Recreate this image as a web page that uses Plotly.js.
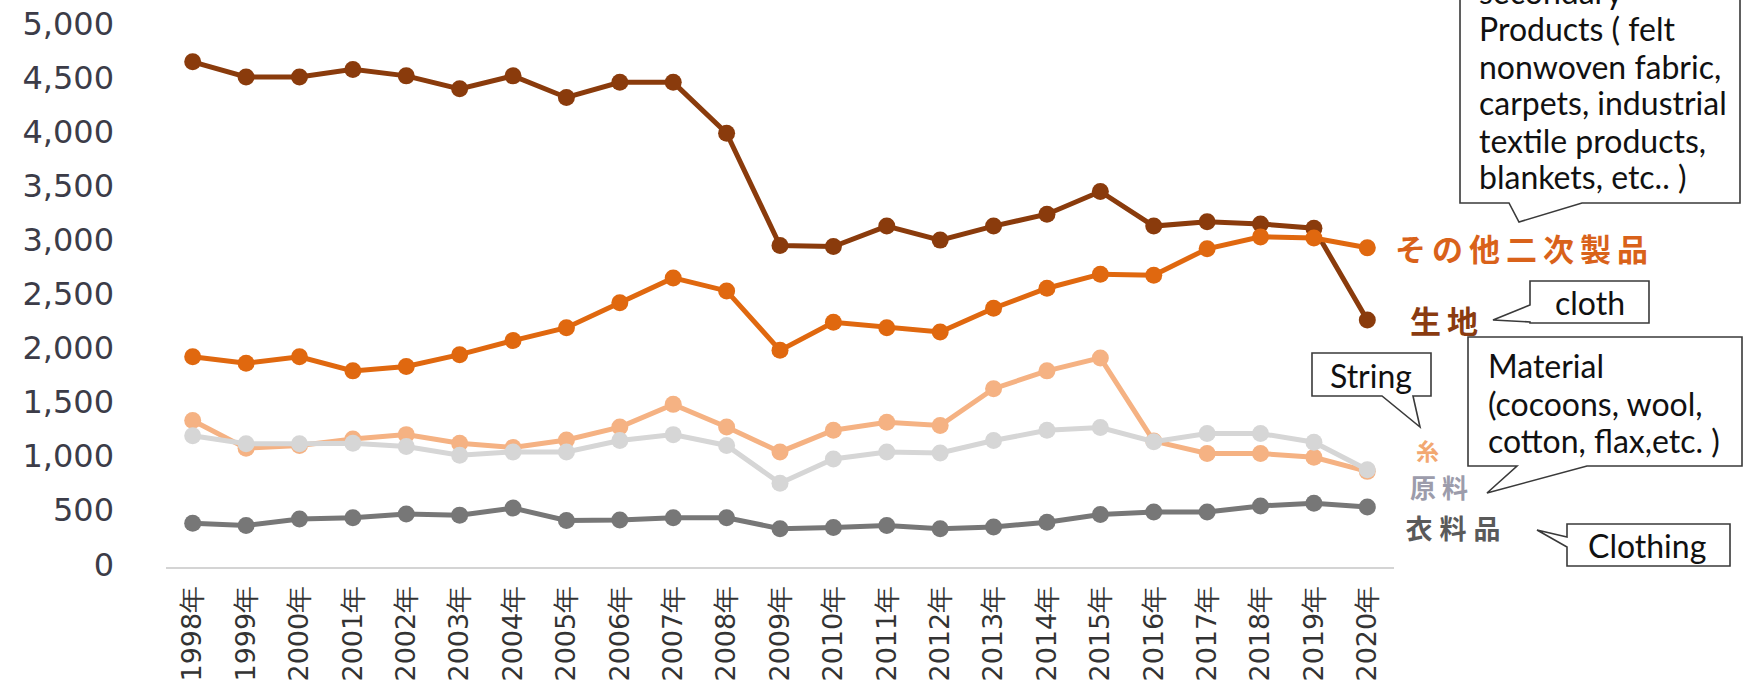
<!DOCTYPE html>
<html>
<head>
<meta charset="utf-8">
<script src="https://cdn.plot.ly/plotly-3.0.1.min.js"></script>
<style>
html,body{margin:0;padding:0;background:#fff;}
#chart{width:1744px;height:690px;}
#chart g.annotation[data-index="0"] text{letter-spacing:6px;}
#chart g.annotation[data-index="1"] text{letter-spacing:6px;}
#chart g.annotation[data-index="3"] text{letter-spacing:6px;}
#chart g.annotation[data-index="4"] text{letter-spacing:7px;}
</style>
</head>
<body>
<div id="chart"></div>
<script>
// ---- data ----
const years = ['1998年','1999年','2000年','2001年','2002年','2003年','2004年','2005年','2006年','2007年','2008年','2009年','2010年','2011年','2012年','2013年','2014年','2015年','2016年','2017年','2018年','2019年','2020年'];
const cloth = [4650,4510,4510,4580,4520,4400,4520,4320,4460,4460,3990,2950,2940,3130,3000,3130,3240,3450,3130,3170,3150,3110,2260];
const otherProducts = [1920,1860,1920,1790,1830,1940,2070,2190,2420,2650,2530,1980,2240,2190,2150,2370,2555,2685,2675,2920,3030,3020,2930];
const yarn = [1330,1075,1100,1160,1200,1120,1080,1150,1270,1480,1270,1040,1240,1315,1285,1625,1790,1910,1140,1025,1025,990,860];
const material = [1190,1115,1115,1120,1090,1010,1040,1040,1145,1200,1100,750,975,1040,1030,1145,1240,1265,1135,1210,1210,1130,875];
const clothing = [380,360,420,430,465,455,520,405,410,430,430,330,340,360,330,345,390,460,485,485,540,565,530];
const seriesNames = ['生地','その他二次製品','糸','原料','衣料品'];
const yTicks = [0,500,1000,1500,2000,2500,3000,3500,4000,4500,5000];
const calloutSecondary = ['secondary','Products ( felt','nonwoven fabric,','carpets, industrial','textile products,','blankets, etc.. )'];
const calloutMaterial = ['Material','(cocoons, wool,','cotton, flax,etc. )'];

// ---- layout geometry (pixels) ----
const W = 1744, H = 690;
const L = 166, R = 1394, T = 24, B = 567;
const px = x => (x - L) / (R - L);
const py = y => (B - y) / (B - T);
const pathFrom = pts => pts.map((p,i)=>(i?'L':'M')+px(p[0]).toFixed(5)+','+py(p[1]).toFixed(5)).join(' ')+' Z';

const colors = ['#8a3b0c','#e0680f','#f5b283','#d6d6d6','#777777'];
const labelColors = ['#8a3b10','#d9621a','#f2a872','#9c9cab','#5a5a5a'];
const values = [cloth, otherProducts, yarn, material, clothing];

const traces = values.map((v,i)=>({
  type:'scatter', mode:'lines+markers', x: years, y: v, name: seriesNames[i],
  line:{color:colors[i], width:5},
  marker:{color:colors[i], size:17, symbol:'circle'},
  cliponaxis:false, showlegend:false, hoverinfo:'x+y'
}));

const cjk = '"Noto Sans CJK JP", "Noto Sans", sans-serif';
const en = 'Lato, "Open Sans", sans-serif';
const calloutFont = {family:en, size:32, color:'#111'};

const seriesLabelY = [320, 248, 450, 486, 527];
const seriesLabelSize = [31, 31, 23, 26, 27];
const annotations = seriesNames.map((n,i)=>({
  xref:'paper', yref:'paper', x:px(1414), y:py(seriesLabelY[i]), xanchor:'left', yanchor:'middle',
  text:'<b>'+n+'</b>', showarrow:false,
  font:{family:cjk, size:seriesLabelSize[i], color:labelColors[i]}
}));

// callout texts, one line each
const secY = [-8,29,66,103,140,177];
calloutSecondary.forEach((t,i)=>annotations.push({xref:'paper', yref:'paper', x:px(1477), y:py(secY[i]),
  xanchor:'left', yanchor:'middle', showarrow:false, text:t, font:calloutFont}));
const matY = [366,403,440];
calloutMaterial.forEach((t,i)=>annotations.push({xref:'paper', yref:'paper', x:px(1486), y:py(matY[i]),
  xanchor:'left', yanchor:'middle', showarrow:false, text:t, font:calloutFont}));
annotations.push(
  {xref:'paper', yref:'paper', x:px(1590), y:py(302), xanchor:'center', yanchor:'middle', showarrow:false, text:'cloth', font:calloutFont},
  {xref:'paper', yref:'paper', x:px(1371), y:py(375), xanchor:'center', yanchor:'middle', showarrow:false, text:'String', font:calloutFont},
  {xref:'paper', yref:'paper', x:px(1647), y:py(545), xanchor:'center', yanchor:'middle', showarrow:false, text:'Clothing', font:calloutFont}
);

const boxStyle = {xref:'paper', yref:'paper', type:'path', fillcolor:'#ffffff', line:{color:'#3a3a3a', width:1.6}, layer:'above'};
const shapes = [
  Object.assign({path:pathFrom([[1460,-20],[1460,203],[1509,203],[1519,222],[1582,203],[1740,203],[1740,-20]])}, boxStyle),
  Object.assign({path:pathFrom([[1530,281],[1530,305],[1493,320],[1530,322],[1530,323],[1649,323],[1649,281]])}, boxStyle),
  Object.assign({path:pathFrom([[1312,353],[1312,396],[1382,396],[1420,427],[1413,396],[1431,396],[1431,353]])}, boxStyle),
  Object.assign({path:pathFrom([[1468,337],[1468,466],[1517,466],[1487,493],[1587,466],[1742,466],[1742,337]])}, boxStyle),
  Object.assign({path:pathFrom([[1567,524],[1567,537],[1537,530],[1567,547],[1567,566],[1730,566],[1730,524]])}, boxStyle)
];

const layout = {
  width: W, height: H,
  margin:{l:L, r:W-R, t:T, b:H-B, pad:0},
  paper_bgcolor:'#ffffff', plot_bgcolor:'#ffffff',
  xaxis:{
    type:'category', range:[-0.5, years.length-0.5],
    showgrid:false, zeroline:false, showline:true, linecolor:'#d4d4d4', linewidth:2,
    ticks:'', tickangle:-90, ticklabelstandoff:6,
    tickfont:{family:'"DejaVu Sans", sans-serif', size:27, color:'#333333'}
  },
  yaxis:{
    range:[-25, 5000], tickvals:yTicks, tickformat:',', showgrid:false, zeroline:false, showline:false,
    ticks:'', ticklabelstandoff:51,
    tickfont:{family:'"DejaVu Sans", Verdana, sans-serif', size:32, color:'#3c3c48'}
  },
  showlegend:false,
  annotations: annotations,
  shapes: shapes
};

Plotly.newPlot('chart', traces, layout, {staticPlot:true, displayModeBar:false});
</script>
</body>
</html>
